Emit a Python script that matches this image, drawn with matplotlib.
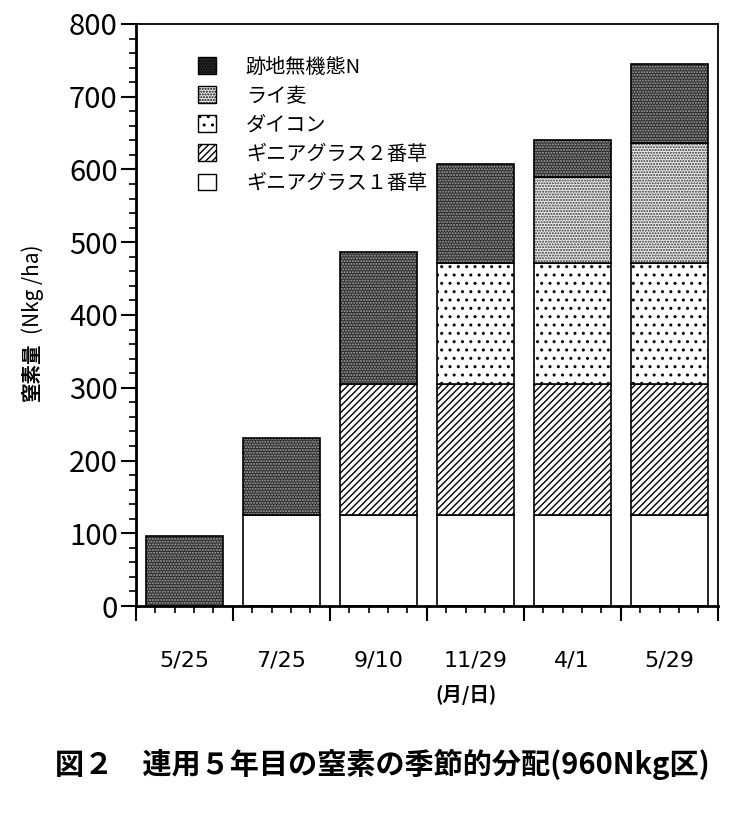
import matplotlib.pyplot as plt
import numpy as np
from matplotlib.patches import Patch

plt.rcParams['font.family'] = ['Noto Sans CJK JP', 'DejaVu Sans']
plt.rcParams['hatch.linewidth'] = 1.0

dates = ['5/25', '7/25', '9/10', '11/29', '4/1', '5/29']
guinea1 = [0, 125, 125, 125, 125, 125]
guinea2 = [0, 0, 180, 180, 180, 180]
daikon = [0, 0, 0, 166, 166, 166]
rye = [0, 0, 0, 0, 119, 165]
residual = [96, 106, 181, 136, 50, 109]

names = ['跡地無機態N', 'ライ麦', 'ダイコン', 'ギニアグラス２番草', 'ギニアグラス１番草']
# face, hatch colour, hatch
styles = {
    'ギニアグラス１番草': ('white', 'black', ''),
    'ギニアグラス２番草': ('white', 'black', '/////'),
    'ダイコン': ('white', 'black', '..'),
    'ライ麦': ('#ececec', '#303030', '......'),
    '跡地無機態N': ('#2a2a2a', '#a8a8a8', '......'),
}
series = [('ギニアグラス１番草', guinea1), ('ギニアグラス２番草', guinea2),
          ('ダイコン', daikon), ('ライ麦', rye), ('跡地無機態N', residual)]

fig = plt.figure(figsize=(7.5, 8.15), dpi=100)
ax = fig.add_axes([0.181, 0.2564, 0.776, 0.7142])

x = np.arange(len(dates)) + 0.5
bottom = np.zeros(len(dates))
for name, vals in series:
    vals = np.array(vals, dtype=float)
    face, hcol, hatch = styles[name]
    mask = vals > 0
    ax.bar(x[mask], vals[mask], 0.79, bottom=bottom[mask], color=face,
           edgecolor=hcol, hatch=hatch, linewidth=0)
    ax.bar(x[mask], vals[mask], 0.79, bottom=bottom[mask], fill=False,
           edgecolor='black', linewidth=1.2)
    bottom += vals

ax.set_xlim(0, 6)
ax.set_ylim(0, 800)
ax.set_xticks(np.arange(0, 7))
ax.set_xticks(np.arange(0, 6.01, 0.2), minor=True)
ax.set_xticklabels([])
ax.set_yticks(np.arange(0, 801, 100))
ax.set_yticks(np.arange(0, 801, 20), minor=True)
ax.tick_params(axis='y', which='major', labelsize=21, length=11, width=1.5, pad=2)
ax.tick_params(axis='y', which='minor', length=5, width=1.2)
ax.tick_params(axis='x', which='major', length=11, width=1.5)
ax.tick_params(axis='x', which='minor', length=5, width=1.2)
for sp in ['left', 'bottom']:
    ax.spines[sp].set_linewidth(2)
for sp in ['top', 'right']:
    ax.spines[sp].set_linewidth(1.3)

for xi, d in zip(x, dates):
    ax.text(xi, -0.093, d, transform=ax.get_xaxis_transform(), ha='center',
            va='center', fontsize=16, family='DejaVu Sans')
ax.text(3.4, -0.152, '(月/日)', transform=ax.get_xaxis_transform(), ha='center',
        va='center', fontsize=14, fontweight='bold')

# y label: bold kanji part, plain unit part
fig.text(0.043, 0.5436, '窒素量', rotation=90, ha='center', va='center',
         fontsize=14, fontweight='bold')
fig.text(0.043, 0.645, '(Nkg /ha)', rotation=90, ha='center', va='center',
         fontsize=15)
fig.text(0.073, 0.062, '図２　連用５年目の窒素の季節的分配(960Nkg区)', ha='left',
         va='center', fontsize=21, fontweight='bold')

handles = []
for name in names:
    face, hcol, hatch = styles[name]
    handles.append(Patch(facecolor=face, edgecolor='black', hatch=hatch, linewidth=1))
leg = ax.legend(handles, names, loc='upper left', bbox_to_anchor=(0.075, 0.975),
                frameon=False, fontsize=14.5, handlelength=0.9, handleheight=0.9,
                handletextpad=1.5, labelspacing=0.4)

fig.savefig('out.png', dpi=100)
